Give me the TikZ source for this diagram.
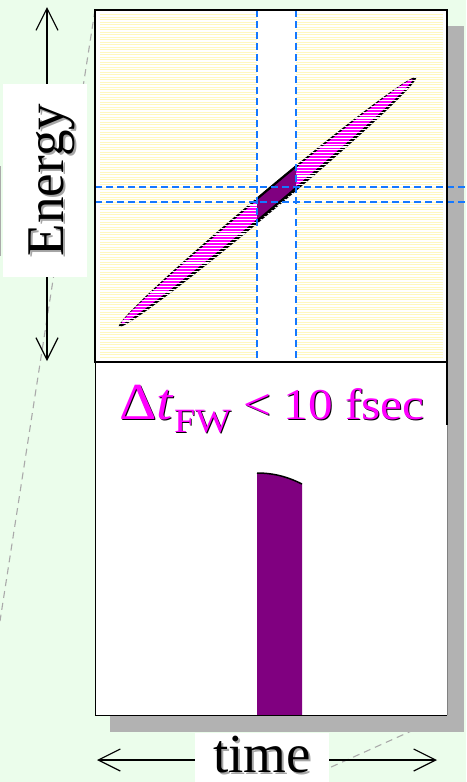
\documentclass[tikz,border=0pt]{standalone}
\usepackage{fontspec}
\usepackage{graphicx}
\setmainfont{Liberation Serif}
\usetikzlibrary{arrows.meta}
\definecolor{bgreen}{RGB}{235,253,235}
\definecolor{shadowgray}{RGB}{178,178,178}
\definecolor{projgray}{RGB}{170,170,170}
\definecolor{stripey}{RGB}{255,248,190}
\definecolor{dblue}{RGB}{20,120,255}
\definecolor{purp}{RGB}{128,0,128}
\definecolor{mag}{RGB}{255,0,255}
\tikzset{
  projline/.style={draw=projgray, line width=1.1pt, dash pattern=on 7pt off 5pt},
  bluedash/.style={draw=dblue, line width=1.3pt, dash pattern=on 7pt off 4pt},
  biarrow/.style={draw=black, line width=1.2pt, {Straight Barb[length=22pt,width=22pt]}-{Straight Barb[length=22pt,width=22pt]}},
  stripe/.style={draw=stripey, line width=0.9pt},
  hatch/.style={draw=white, line width=1.1pt},
}
\begin{document}
\begin{tikzpicture}[x=1pt,y=-1pt]
\useasboundingbox (0,0) rectangle (466,782);
\fill[bgreen] (0,0) rectangle (466,782);
% projection lines
\coordinate (tl) at (95,10);
\coordinate (lend) at (0,621);
\draw[projline] (tl) -- (lend);
\coordinate (br) at (447,715);
\coordinate (rend) at (300,781);
\draw[projline] (br) -- (rend);
\coordinate (ga) at (0.7,166);
\coordinate (gb) at (0.7,256);
\draw[draw=projgray, line width=1.2pt] (ga) -- (gb);
% shadow
\fill[shadowgray] (110,26) rectangle (464,732);
% panels
\fill[white] (95,10) rectangle (447,715);
% yellow stripes
\foreach \k in {0,...,137} {
  \draw[stripe] (100,14.5+\k*2.5) -- (257,14.5+\k*2.5);
  \draw[stripe] (296,14.5+\k*2.5) -- (443,14.5+\k*2.5);
}
% chirped ellipse, hatched outer parts
\begin{scope}
  \clip[rotate around={40:(267.5,202)}] (267.5,202) ellipse [x radius=194, y radius=10];
  \fill[black] (100,60) rectangle (440,340);
  \foreach \k in {0,...,100} \draw[hatch] (100,60+\k*2.9) -- (440,60+\k*2.9);
\end{scope}
\begin{scope}
  \clip[rotate around={40:(267,201.5)}] (267,201.5) ellipse [x radius=190, y radius=7.2];
  \fill[mag] (100,60) rectangle (440,340);
  \foreach \k in {0,...,100} \draw[hatch] (100,60+\k*2.9) -- (440,60+\k*2.9);
\end{scope}
% solid middle part
\begin{scope}
  \clip (257,0) rectangle (296,400);
  \fill[purp, rotate around={40:(267,201.5)}] (267,201.5) ellipse [x radius=190, y radius=8.5];
  \draw[black, line width=2.2pt, rotate around={40:(267,201.5)}] (267,201.5) ellipse [x radius=190, y radius=8.5];
\end{scope}
% dashed guide lines
\coordinate (v1t) at (257,10); \coordinate (v1b) at (257,362);
\coordinate (v2t) at (296,10); \coordinate (v2b) at (296,362);
\coordinate (h1l) at (95,187); \coordinate (h1r) at (466,187);
\coordinate (h2l) at (95,202); \coordinate (h2r) at (466,202);
\draw[bluedash] (v1t) -- (v1b);
\draw[bluedash] (v2t) -- (v2b);
\draw[bluedash] (h1l) -- (h1r);
\draw[bluedash] (h2l) -- (h2r);
% pulse in lower panel
\fill[purp] (257,715) -- (257,473) .. controls (276,473) and (290,478) .. (302,484) -- (302,715) -- cycle;
\draw[black, line width=1.5pt] (257,473) .. controls (276,473) and (290,478) .. (302,484);
% frames
\draw[black, line width=1.5pt] (95,10) rectangle (447,362);
\draw[black, line width=1pt] (95,362) -- (95,715) -- (447,715);
\draw[gray, line width=0.6pt] (447,425) -- (447,715);
\draw[black, line width=1.5pt] (447,362) -- (447,425);
% energy axis
\coordinate (etop) at (47,7);
\coordinate (ebot) at (47,361);
\draw[biarrow] (ebot) -- (etop);
\node (ebox) [fill=white, inner sep=0pt, minimum width=84pt, minimum height=193pt] at (45,180.5) {};
\node (eshadow) [rotate=90, anchor=base, inner sep=0pt, text=gray!70, font=\fontsize{53}{53}\selectfont] at (65,182) {Energy};
\node (elabel) [rotate=90, anchor=base, inner sep=0pt, font=\fontsize{53}{53}\selectfont] at (63,180) {Energy};
% time axis
\coordinate (tleft) at (97,760);
\coordinate (tright) at (437,760);
\draw[biarrow] (tleft) -- (tright);
\node (tbox) [fill=white, inner sep=0pt, minimum width=134pt, minimum height=49pt] at (262,757.5) {};
\node (tshadow) [anchor=base, inner sep=0pt, text=gray!70, font=\fontsize{55}{55}\selectfont] at (264,774) {time};
\node (tlabel) [anchor=base, inner sep=0pt, font=\fontsize{55}{55}\selectfont] at (262,772) {time};
% duration label
\newcommand{\durtext}{\scalebox{1.12}[1]{\fontsize{44}{44}\selectfont{\fontsize{52}{52}\selectfont Δ\textit{t}}\raisebox{-13pt}{\fontsize{34}{34}\selectfont FW} < 10 fsec}}
\node (dshadow) [anchor=base west, inner sep=0pt, text=black] at (120,420) {\durtext};
\node (dlabel) [anchor=base west, inner sep=0pt, text=mag] at (119,419) {\durtext};
\end{tikzpicture}
\end{document}
